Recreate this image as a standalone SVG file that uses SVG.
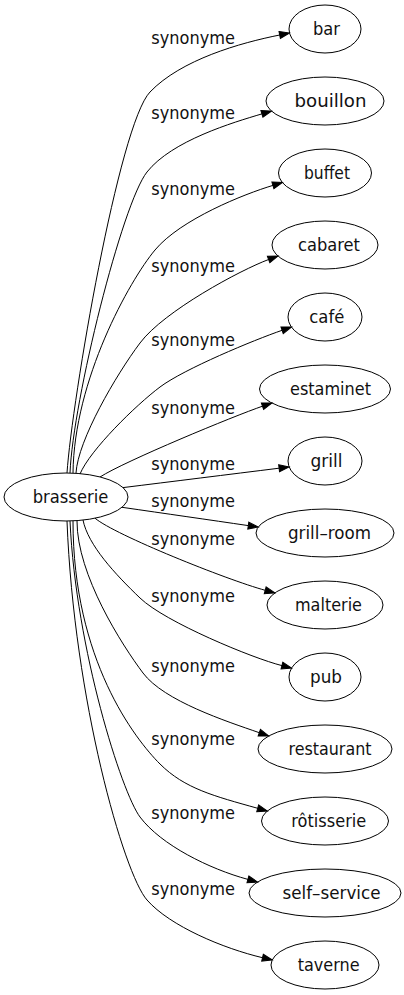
<svg xmlns="http://www.w3.org/2000/svg" width="404" height="995" viewBox="0 0 404 995">
<style>
.n ellipse{fill:none;stroke:#000;stroke-width:1}
text{font-family:"DejaVu Sans","Liberation Sans",sans-serif;font-size:18px;fill:#111}
.e path{fill:none;stroke:#000;stroke-width:1;marker-end:url(#ah)}
</style>
<defs>
<marker id="ah" markerUnits="userSpaceOnUse" markerWidth="12" markerHeight="8" refX="0" refY="4" orient="auto" overflow="visible">
<path d="M0,0.5 L10,4 L0,7.5 Z" fill="#000" stroke="#000" stroke-width="1"/>
</marker>
</defs>
<rect width="404" height="995" fill="#fff"/>
<g id="edges" class="e">
<path d="M67,473 C72,400 119,124.4 150,92 C181,59.6 240.5,42.8 279.7,35"/>
<path d="M70,473 C73,400 122.2,203.4 147,172 C171.8,140.6 233.2,122.4 261.9,113.9"/>
<path d="M73,473 C74,380 129.4,280.7 155,250 C180.6,219.3 244.2,194 272.9,185.4"/>
<path d="M76,473 C78,440 116,375 140,343 C164,311 240.5,270 268.6,259.5"/>
<path d="M80,474 C90,450 136,405 160,387 C184,369 253.7,340.1 282.1,330.3"/>
<path d="M100,477 C125,461 234.2,415.9 262.5,406.2"/>
<path d="M123,487.6 C170,481.8 230,474.3 279.1,468.2"/>
<path d="M122,507.3 C165,513.5 210,520 248.3,525.6"/>
<path d="M95,518.2 C115,535 226.6,579.7 265.2,590.3"/>
<path d="M83,520 C88,545 114.8,573.8 140,598 C165.2,622.2 252.8,658.3 281.9,665.6"/>
<path d="M77,521 C77,575 122,645 143,673 C164,701 226.2,721.2 259.3,732.7"/>
<path d="M73,521 C73,660 135.3,739.3 160,764 C184.7,788.7 214.3,796.1 257.7,808.3"/>
<path d="M70,521 C76,650 122,793 140,817 C161,845 209.3,868.9 247.9,879.4"/>
<path d="M67,521 C74,700 123.9,873.75 147,900 C170.1,926.25 223.6,948.5 262.5,957.7"/>
</g>
<g id="edge-labels">
<text x="151.3" y="43.5" textLength="83.7" lengthAdjust="spacingAndGlyphs">synonyme</text>
<text x="151.3" y="119.3" textLength="83.7" lengthAdjust="spacingAndGlyphs">synonyme</text>
<text x="151.3" y="195" textLength="83.7" lengthAdjust="spacingAndGlyphs">synonyme</text>
<text x="151.3" y="271.7" textLength="83.7" lengthAdjust="spacingAndGlyphs">synonyme</text>
<text x="151.3" y="345.7" textLength="83.7" lengthAdjust="spacingAndGlyphs">synonyme</text>
<text x="151.3" y="414.3" textLength="83.7" lengthAdjust="spacingAndGlyphs">synonyme</text>
<text x="151.3" y="470" textLength="83.7" lengthAdjust="spacingAndGlyphs">synonyme</text>
<text x="151.3" y="507.3" textLength="83.7" lengthAdjust="spacingAndGlyphs">synonyme</text>
<text x="151.3" y="545" textLength="83.7" lengthAdjust="spacingAndGlyphs">synonyme</text>
<text x="151.3" y="601.7" textLength="83.7" lengthAdjust="spacingAndGlyphs">synonyme</text>
<text x="151.3" y="671.7" textLength="83.7" lengthAdjust="spacingAndGlyphs">synonyme</text>
<text x="151.3" y="745" textLength="83.7" lengthAdjust="spacingAndGlyphs">synonyme</text>
<text x="151.3" y="819" textLength="83.7" lengthAdjust="spacingAndGlyphs">synonyme</text>
<text x="151.3" y="895" textLength="83.7" lengthAdjust="spacingAndGlyphs">synonyme</text>
</g>
<g id="brasserie" class="n"><ellipse cx="66" cy="497" rx="62" ry="24"/><text x="32.7" y="502.6" textLength="75.6" lengthAdjust="spacingAndGlyphs">brasserie</text></g>
<g id="bar" class="n"><ellipse cx="325" cy="29" rx="36" ry="24"/><text x="313" y="34.6" textLength="27" lengthAdjust="spacingAndGlyphs">bar</text></g>
<g id="bouillon" class="n"><ellipse cx="325" cy="101" rx="59" ry="24"/><text x="294.5" y="106.6" textLength="72" lengthAdjust="spacingAndGlyphs">bouillon</text></g>
<g id="buffet" class="n"><ellipse cx="325" cy="173" rx="46.5" ry="24"/><text x="304" y="178.6" textLength="46" lengthAdjust="spacingAndGlyphs">buffet</text></g>
<g id="cabaret" class="n"><ellipse cx="325" cy="245" rx="53" ry="24"/><text x="298" y="250.6" textLength="62" lengthAdjust="spacingAndGlyphs">cabaret</text></g>
<g id="cafe" class="n"><ellipse cx="325" cy="317" rx="37" ry="24"/><text x="309.3" y="322.6" textLength="35" lengthAdjust="spacingAndGlyphs">café</text></g>
<g id="estaminet" class="n"><ellipse cx="325" cy="389" rx="65.5" ry="24"/><text x="290" y="394.6" textLength="81" lengthAdjust="spacingAndGlyphs">estaminet</text></g>
<g id="grill" class="n"><ellipse cx="325" cy="461" rx="37" ry="24"/><text x="310.5" y="466.6" textLength="32" lengthAdjust="spacingAndGlyphs">grill</text></g>
<g id="grill-room" class="n"><ellipse cx="325" cy="533" rx="69" ry="24"/><text x="288" y="538.6" textLength="83" lengthAdjust="spacingAndGlyphs">grill–room</text></g>
<g id="malterie" class="n"><ellipse cx="325" cy="605" rx="58" ry="24"/><text x="295" y="610.6" textLength="67" lengthAdjust="spacingAndGlyphs">malterie</text></g>
<g id="pub" class="n"><ellipse cx="325" cy="677" rx="36" ry="24"/><text x="310" y="682.6" textLength="32" lengthAdjust="spacingAndGlyphs">pub</text></g>
<g id="restaurant" class="n"><ellipse cx="325" cy="749" rx="67" ry="24"/><text x="288.5" y="754.6" textLength="83" lengthAdjust="spacingAndGlyphs">restaurant</text></g>
<g id="rotisserie" class="n"><ellipse cx="325" cy="821" rx="63.5" ry="24"/><text x="291.3" y="826.6" textLength="75" lengthAdjust="spacingAndGlyphs">rôtisserie</text></g>
<g id="self-service" class="n"><ellipse cx="325" cy="893" rx="76" ry="24"/><text x="282.5" y="898.6" textLength="98" lengthAdjust="spacingAndGlyphs">self–service</text></g>
<g id="taverne" class="n"><ellipse cx="325" cy="965" rx="54" ry="24"/><text x="297.7" y="970.6" textLength="62" lengthAdjust="spacingAndGlyphs">taverne</text></g>
</svg>
